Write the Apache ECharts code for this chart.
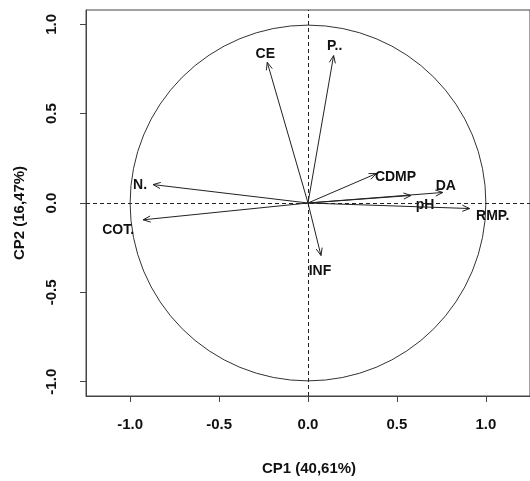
<!DOCTYPE html>
<html>
<head>
<meta charset="utf-8">
<script src="https://cdn.jsdelivr.net/npm/echarts@6/dist/echarts.min.js"></script>
<style>
html,body{margin:0;padding:0;background:#fff;}
#chart{width:530px;height:481px;}
</style>
</head>
<body>
<div id="chart"></div>
<script>
// Variable names and loadings on the two principal components
const varNames = ['CE', 'P..', 'CDMP', 'DA', 'pH', 'RMP.', 'N.', 'COT.', 'INF'];
const cp1 = [-0.229, 0.144, 0.385, 0.758, 0.579, 0.909, -0.871, -0.927, 0.073];
const cp2 = [0.787, 0.825, 0.165, 0.059, 0.042, -0.031, 0.103, -0.094, -0.294];
// Axis tick values
const tickValues = [-1, -0.5, 0, 0.5, 1];
const xTitle = 'CP1 (40,61%)';
const yTitle = 'CP2 (16,47%)';

// label placement (pixel offsets from arrow tip) – styling only
const labelOffsets = [[-2,-8],[1,-9],[19,4],[3,-6],[14,10],[23,8],[-13,1],[-25,10],[-1,16]];

const FONT = '"Liberation Sans", Arial, sans-serif';
const chart = echarts.init(document.getElementById('chart'), null, {renderer: 'canvas'});

const arrowData = varNames.map((n, i) => [cp1[i], cp2[i]]);

const option = {
  animation: false,
  backgroundColor: '#fff',
  grid: {left: 86, top: 10, width: 447, height: 386, show: true, borderColor: '#444', borderWidth: 1, backgroundColor: 'transparent'},
  xAxis: {
    type: 'value', min: -1.248, max: 1.248,
    axisLine: {show: true, onZero: false, lineStyle: {color: '#444', width: 1}},
    axisTick: {show: true, inside: false, length: 6, customValues: tickValues, lineStyle: {color: '#444'}},
    axisLabel: {customValues: tickValues, margin: 21, color: '#111', fontSize: 15, fontWeight: 'bold', fontFamily: FONT,
      formatter: v => v.toFixed(1)},
    splitLine: {show: false}
  },
  yAxis: {
    type: 'value', min: -1.08, max: 1.08,
    axisLine: {show: true, onZero: false, lineStyle: {color: '#444', width: 1}},
    axisTick: {show: true, inside: false, length: 6, customValues: tickValues, lineStyle: {color: '#444'}},
    axisLabel: {customValues: tickValues, margin: 27, rotate: 90, color: '#111', fontSize: 15, fontWeight: 'bold', fontFamily: FONT,
      formatter: v => v.toFixed(1)},
    splitLine: {show: false}
  },
  graphic: [
    {type: 'text', x: 309, y: 469, style: {text: xTitle, fill: '#111', font: 'bold 15px ' + FONT, align: 'center', verticalAlign: 'middle'}},
    {type: 'text', x: 20, y: 213, rotation: Math.PI / 2, style: {text: yTitle, fill: '#111', font: 'bold 15px ' + FONT, align: 'center', verticalAlign: 'middle'}}
  ],
  series: [
    {
      type: 'custom',
      name: 'circle',
      silent: true,
      data: [[0, 0]],
      renderItem: function (params, api) {
        const c = api.coord([api.value(0), api.value(1)]);
        const r = api.size([1, 1])[0];
        return {type: 'circle', shape: {cx: c[0], cy: c[1], r: r}, style: {stroke: '#333', fill: null, lineWidth: 1}};
      },
      markLine: {
        silent: true, symbol: ['none', 'none'],
        label: {show: false},
        lineStyle: {color: '#222', type: [4, 3], width: 1},
        data: [{xAxis: 0}, {yAxis: 0}]
      },
      z: 2
    },
    {
      type: 'custom',
      name: 'arrows',
      silent: true,
      data: arrowData,
      renderItem: function (params, api) {
        const i = params.dataIndex;
        const p0 = api.coord([0, 0]);
        const p1 = api.coord([api.value(0), api.value(1)]);
        const ang = Math.atan2(p1[1] - p0[1], p1[0] - p0[0]);
        const L = 8, a = Math.PI / 8;
        const h1 = [p1[0] - L * Math.cos(ang - a), p1[1] - L * Math.sin(ang - a)];
        const h2 = [p1[0] - L * Math.cos(ang + a), p1[1] - L * Math.sin(ang + a)];
        const off = labelOffsets[i];
        return {
          type: 'group',
          children: [
            {type: 'line', shape: {x1: p0[0], y1: p0[1], x2: p1[0], y2: p1[1]}, style: {stroke: '#222', lineWidth: 1}},
            {type: 'polyline', shape: {points: [h1, p1, h2]}, style: {stroke: '#222', fill: null, lineWidth: 1}},
            {type: 'text', x: p1[0] + off[0], y: p1[1] + off[1],
              style: {text: varNames[i], fill: '#111', fontSize: 14, fontWeight: 'bold', fontFamily: FONT, align: 'center', verticalAlign: 'middle'}}
          ]
        };
      },
      z: 3
    }
  ]
};
chart.setOption(option);
</script>
</body>
</html>
